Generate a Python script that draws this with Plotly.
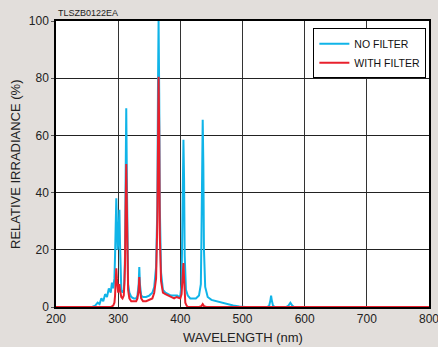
import plotly.graph_objects as go

# NO FILTER spectrum (wavelength nm, relative irradiance %)
wl_nofilter = [200, 258, 263, 267, 270, 273, 276, 279, 282, 285, 288, 290, 292, 294, 295, 296, 297, 298, 299,
               300, 301, 302, 303, 304, 305, 307, 309, 310, 311, 312, 313, 314, 315, 316, 318, 321, 325,
               329, 331, 333, 334, 335, 337, 340, 345, 350, 355, 358, 361, 363, 364, 365, 366, 367, 369,
               372, 376, 380, 385, 390, 395, 398, 400, 402, 403, 404, 405, 406, 407, 409, 412, 416, 420,
               425, 430, 433, 434, 435, 436, 437, 438, 440, 444, 450, 458, 466, 475, 485, 495, 505, 540,
               543, 545, 546, 547, 549, 552, 570, 574, 577, 580, 583, 800]
val_nofilter = [0, 0, 0.5, 1.5, 1.0, 3.0, 2.0, 4.5, 3.5, 6.5, 5.0, 8.5, 6.5, 10, 18, 30, 38, 30, 20,
                22, 30, 34, 22, 10, 6, 5, 6, 9, 18, 45, 69.5, 45, 18, 8, 5, 3.5, 3,
                3, 4, 8, 14, 8, 4, 3.5, 3.5, 4, 5, 7, 14, 35, 75, 100, 75, 35, 12,
                6, 5, 4.5, 4, 4, 4, 3.5, 4, 8, 25, 50, 58.5, 45, 18, 6, 4, 3, 3,
                3, 4, 8, 25, 55, 65.5, 50, 20, 7, 3.5, 2.5, 2, 1.5, 1.0, 0.5, 0.2, 0, 0,
                0.5, 2.5, 4, 2.5, 0.5, 0, 0, 0.5, 1.5, 0.5, 0, 0]

# WITH FILTER spectrum
wl_filter = [200, 288, 292, 294, 295, 296, 297, 298, 299, 300, 301, 302, 303, 305, 307, 309, 310, 311,
             312, 313, 314, 315, 316, 318, 321, 325, 329, 331, 333, 334, 335, 337, 340, 345, 350, 355,
             358, 361, 363, 364, 365, 366, 367, 369, 372, 376, 380, 385, 390, 394, 398, 400, 402,
             403, 404, 405, 406, 407, 408, 410, 412, 430, 434, 436, 438, 442, 800]
val_filter = [0, 0, 0.5, 1.5, 4, 9, 13.5, 10, 6, 5, 7, 8, 6, 3.5, 3, 4, 8, 15,
              35, 50, 35, 12, 6, 3, 2, 2, 2, 3, 6, 10.5, 6, 3, 2, 2, 2.5, 3,
              5, 10, 30, 65, 80.5, 62, 25, 9, 5, 4.5, 4, 3.5, 3, 3.5, 3, 3, 4.5,
              9, 13, 15.4, 10, 4, 1.5, 0.5, 0, 0, 0.3, 1.0, 0.3, 0, 0]

series_names = ["NO FILTER", "WITH FILTER"]
series_colors = ["#10B4E8", "#E8202C"]

x_ticks = [200, 300, 400, 500, 600, 700, 800]
y_ticks = [0, 20, 40, 60, 80, 100]

fig = go.Figure()
fig.add_trace(go.Scatter(x=wl_nofilter, y=val_nofilter, mode="lines", name=series_names[0],
                         line=dict(color=series_colors[0], width=2)))
fig.add_trace(go.Scatter(x=wl_filter, y=val_filter, mode="lines", name=series_names[1],
                         line=dict(color=series_colors[1], width=2)))

font_family = "Liberation Sans, Arial, Helvetica, sans-serif"

fig.update_layout(
    width=438, height=347,
    margin=dict(l=56, r=9, t=21, b=40, autoexpand=False),
    paper_bgcolor="#E2DEDB",
    plot_bgcolor="#FFFFFF",
    font=dict(family=font_family, color="#222222", size=11),
    showlegend=True,
    legend=dict(x=0.69, y=0.975, xanchor="left", yanchor="top",
                bgcolor="#FFFFFF", bordercolor="#000000", borderwidth=1,
                font=dict(size=10.5, color="#111111"), tracegroupgap=0,
                itemwidth=30),
    xaxis=dict(range=[200, 800], tickvals=x_ticks, ticktext=[str(v) for v in x_ticks],
               showgrid=True, gridcolor="#333333", gridwidth=1, zeroline=False,
               showline=True, linecolor="#000000", linewidth=1.5, mirror=True,
               ticks="", tickfont=dict(size=12), automargin=False,
               ticklabeloverflow="allow"),
    yaxis=dict(range=[0, 100], tickvals=y_ticks, ticktext=[str(v) for v in y_ticks],
               showgrid=True, gridcolor="#222222", gridwidth=1, zeroline=False,
               showline=True, linecolor="#000000", linewidth=1.5, mirror=True,
               ticks="outside", ticklen=3, tickcolor="#555555", tickfont=dict(size=12),
               automargin=False, ticklabeloverflow="allow"),
    annotations=[
        dict(text="TLSZB0122EA", xref="paper", yref="paper", x=0.0, y=1.0,
             xanchor="left", yanchor="bottom", showarrow=False, yshift=1,
             font=dict(size=9, color="#222222")),
        dict(text="WAVELENGTH (nm)", xref="paper", yref="paper", x=0.5, y=0,
             xanchor="center", yanchor="middle", showarrow=False, yshift=-30,
             font=dict(size=13, color="#222222")),
        dict(text="RELATIVE IRRADIANCE (%)", xref="paper", yref="paper", x=0, y=0.5,
             xanchor="center", yanchor="middle", showarrow=False, xshift=-41, textangle=-90,
             font=dict(size=13, color="#222222")),
    ],
)

fig.write_html("out.html", config={"displayModeBar": False},
               post_script="document.body.style.margin='0';")
